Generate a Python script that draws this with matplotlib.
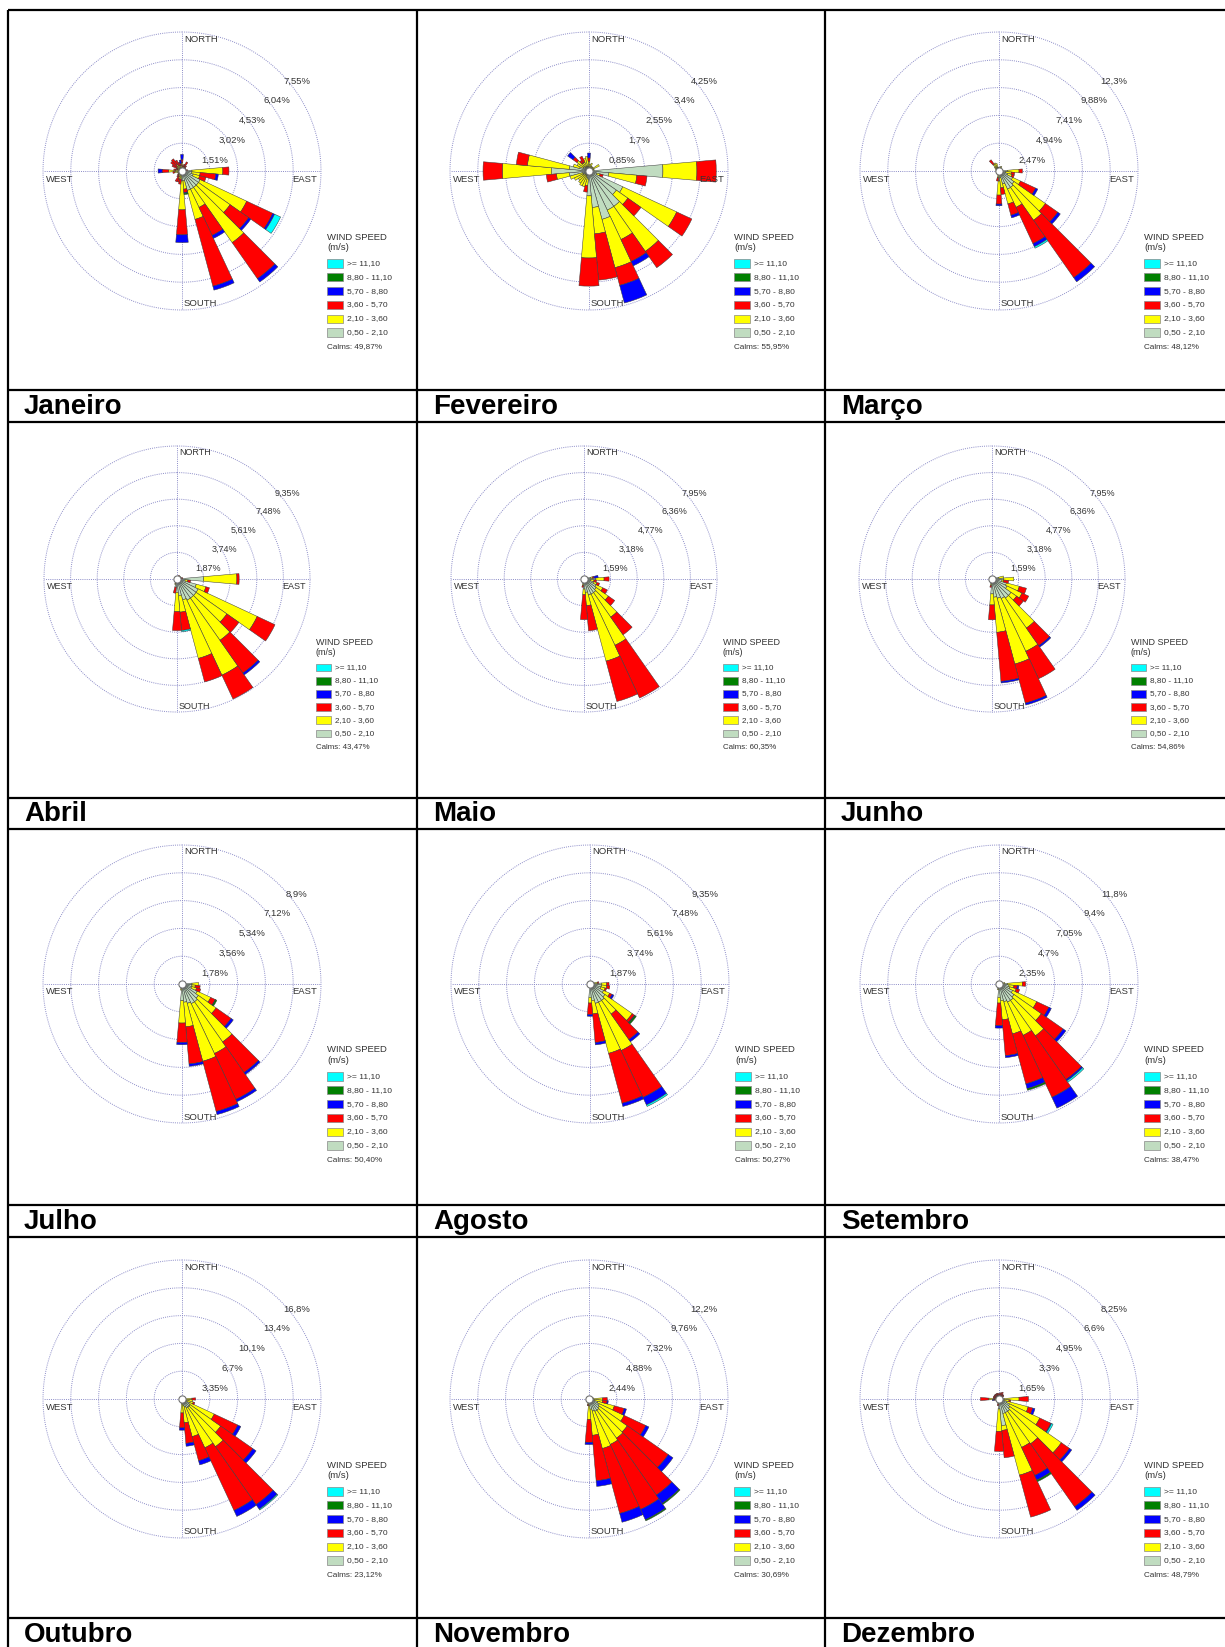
import matplotlib.pyplot as plt
import numpy as np
from matplotlib.patches import Rectangle

plt.rcParams['font.family'] = ['Liberation Sans', 'DejaVu Sans']

W, H = 1225, 1647

meses = ['Janeiro', 'Fevereiro', 'Março', 'Abril', 'Maio', 'Junho',
         'Julho', 'Agosto', 'Setembro', 'Outubro', 'Novembro', 'Dezembro']
calmas = ['49,87%', '55,95%', '48,12%', '43,47%', '60,35%', '54,86%',
          '50,40%', '50,27%', '38,47%', '23,12%', '30,69%', '48,79%']

# passo entre os anéis (%) e o texto de cada anel
passo = [1.51, 0.85, 2.47, 1.87, 1.59, 1.59, 1.78, 1.87, 2.35, 3.35, 2.44, 1.65]
aneis = [
    ['1,51%', '3,02%', '4,53%', '6,04%', '7,55%'],
    ['0,85%', '1,7%', '2,55%', '3,4%', '4,25%'],
    ['2,47%', '4,94%', '7,41%', '9,88%', '12,3%'],
    ['1,87%', '3,74%', '5,61%', '7,48%', '9,35%'],
    ['1,59%', '3,18%', '4,77%', '6,36%', '7,95%'],
    ['1,59%', '3,18%', '4,77%', '6,36%', '7,95%'],
    ['1,78%', '3,56%', '5,34%', '7,12%', '8,9%'],
    ['1,87%', '3,74%', '5,61%', '7,48%', '9,35%'],
    ['2,35%', '4,7%', '7,05%', '9,4%', '11,8%'],
    ['3,35%', '6,7%', '10,1%', '13,4%', '16,8%'],
    ['2,44%', '4,88%', '7,32%', '9,76%', '12,2%'],
    ['1,65%', '3,3%', '4,95%', '6,6%', '8,25%'],
]

classes = ['0,50 - 2,10', '2,10 - 3,60', '3,60 - 5,70', '5,70 - 8,80', '8,80 - 11,10', '>= 11,10']
cores = ['#c0dcc0', '#ffff00', '#ff0000', '#0000ff', '#008000', '#00ffff']

# frequência (%) por direção: [direção, 0.5-2.1, 2.1-3.6, 3.6-5.7, 5.7-8.8, 8.8-11.1, >=11.1]
jan = [
    [0, .27, .18, .18, .27], [10, .1, .1, .1], [20, .12, .12, .15], [30, .15, .15, .25],
    [40, .1, .1, .15], [50, .1, .1, .05], [60, .1, .05], [70, .1, .05], [80, .15, .1, .05],
    [90, .54, 1.68, .33], [100, .54, .45, .85, .14], [110, .63, .36, .36],
    [120, 1.09, 2.79, 1.56, .11, 0, .36], [130, 1.09, 2.10, 1.23, .14],
    [140, 1.09, 3.66, 2.39, .22], [150, 1.09, 1.09, 1.68, .18], [160, 1.09, 1.63, 3.76, .22],
    [170, .54, .45, .18, .05, .07], [180, .54, 1.57, 1.36, .42], [190, .27, .18, .27],
    [200, .18, .27, .18], [210, .15, .2, .3], [220, .15, .15, .1], [230, .1, .15, .05],
    [240, .1, .1], [250, .1, .15], [260, .2, .2, .1], [270, .36, .36, .36, .22],
    [280, .2, .15, .1], [290, .15, .1, .1], [300, .15, .15, .3], [310, .15, .2, .4],
    [320, .18, .27, .36], [330, .15, .2, .3], [340, .15, .15, .2], [350, .15, .15, .1, .2],
]
fev = [
    [0, .15, .15, .1, .15], [10, .1, .1], [20, .1, .15], [30, .08, .08], [40, .08, .08],
    [50, .08, .08], [60, .1, .25], [70, .08, .08], [80, .08, .08],
    [90, 2.26, 1.04, .59], [100, .61, .86, .31], [110, .25, .1, .1],
    [120, 1.14, 1.82, .51], [130, 1.02, .43, .49], [140, 1.32, 1.68, .61],
    [150, 1.32, .99, .74, .15], [160, 1.53, 1.53, .56, .56], [170, 1.12, .81, 1.42],
    [180, .76, 1.90, .86], [190, .25, .2, .2], [200, .2, .3], [210, .15, .35],
    [220, .15, .3], [230, .15, .25], [240, .2, .3], [250, .2, .4], [260, .61, .39, .31],
    [270, 1.15, 1.50, .59], [280, .61, 1.28, .34], [290, .3, .2], [300, .2, .2],
    [310, .2, .25, .15, .2], [320, .15, .15, .1], [330, .15, .15, .2], [340, .15, .25],
    [350, .15, .3],
]
mar = [
    [0, .1, .1], [10, .15, .15], [20, .1, .3], [30, .15, .3], [40, .1, .1], [50, .1, .1],
    [60, .1, .1], [70, .1, .1], [80, .1, .1], [90, .74, 1.04, .3], [100, .6, .5, .3],
    [110, .8, .4, .2], [120, 1.34, .77, 1.48, .21], [130, 1.63, 3.41, 1.34, .27],
    [140, 1.78, 3.56, 6.23, .45], [150, 1.78, 1.78, 3.56, .3, 0, .15],
    [160, 1.19, 1.84, 1.04, .24], [170, .6, .9, .6], [180, .89, 1.25, .8, .15],
    [190, .3, .3, .3], [200, .1, .1], [210, .1, .1], [220, .1, .1], [230, .1, .1],
    [240, .1, .1], [250, .1, .1], [260, .1, .1], [270, .15, .15], [300, .15, .2],
    [310, .2, .3], [320, .3, .45, .47], [330, .3, .5], [340, .3, .4], [350, .15, .2],
]
abr = [
    [30, .1, .1, .1], [60, .2, .1], [70, .2, .1], [80, .2, .1, .1],
    [90, 1.87, 2.34, .16], [100, .58, .19, .19], [110, 1.40, .70, .26],
    [120, 1.64, 4.58, 1.38], [130, 1.64, 2.64, 1.03], [140, 1.64, 3.62, 2.81, .16],
    [150, 1.64, 5.82, 1.85], [160, 1.52, 4.26, 1.71], [170, 1.17, 1.17, 1.29, 0, 0, .09],
    [180, .94, 1.36, 1.33], [190, .58, 0, .42], [200, .3, .1],
]
mai = [
    [80, .4, .1, .1, .25], [90, .7, .5, .3], [100, .4, .2, .15], [110, .6, .2, .16],
    [120, .8, .44, .3], [130, .89, .89, .46], [140, .99, 1.79, 1.29],
    [150, .99, 3.38, 3.48], [160, .99, 4.09, 2.50], [170, .8, .8, 1.51],
    [180, .6, .34, 1.49], [190, .3, .1, .1],
]
jun = [
    [80, .4, .3], [90, .7, .6], [100, .6, .1, .3], [110, .89, .8, .44],
    [120, .99, .99, .44], [130, 1.39, .4, .5], [140, 1.39, 2.19, 1.29, .1],
    [150, 1.29, 3.48, 1.81], [160, 1.19, 4.07, 2.42, .12], [170, 1.09, 2.11, 2.94, .1],
    [180, .89, .66, .89], [190, .3, .1, .1],
]
jul = [
    [90, .64, .43], [100, .64, .21, .32], [110, .64, .32, .28],
    [120, 1.07, .96, .32, .02, .09], [130, 1.28, 1.39, 1.17, .17],
    [140, 1.39, 3.14, 2.39, .15], [150, 1.39, 3.52, 3.24, .17],
    [160, 1.28, 3.84, 3.33, .21], [170, 1.17, 1.58, 2.39, .15],
    [180, 1.07, 1.43, 1.24, .15], [190, .3, .1],
]
ago = [
    [80, .3, .2, .1], [90, .78, .34, .16], [100, .78, .34, .22], [110, .75, .3, .1],
    [120, 1.01, .45, .18, .13], [130, 1.23, 2.24, .18, .04, .11],
    [140, 1.35, 1.12, 2.09, .18], [150, 1.35, 3.59, 3.48, .56, 0, .11],
    [160, 1.35, 3.48, 3.48, .22], [170, 1.12, .9, 1.93, .16], [180, .9, .38, .78, .11],
]
set_ = [
    [80, .3, .2], [90, .7, 1.27, .28], [100, .85, .42, .28, .14], [110, .95, .55, .3],
    [120, 1.27, 2.25, 1.13, .23], [130, 1.55, 2.82, 2.25, .28],
    [140, 1.69, 3.66, 4.51, .14, 0, .14], [150, 1.69, 3.10, 5.78, 1.01],
    [160, 1.55, 2.82, 4.37, .42, .14], [170, 1.41, 1.63, 3.04, .17],
    [180, 1.13, .48, 1.92, .2], [190, .4, .1],
]
out = [
    [80, .2, .2], [90, .4, .8, .44], [100, .4, .9], [110, .6, .8, .2],
    [120, 1.0, 3.29, 3.13, .4], [130, 1.2, 4.49, 4.73, .48],
    [140, 1.2, 5.81, 8.53, .68, 0, .12], [150, 1.2, 5.29, 8.33, .8],
    [160, 1.0, 3.69, 3.01, .52], [170, .8, 2.08, 2.48, .36], [180, .6, 1.08, 1.8, .28],
    [190, .3, .2],
]
nov = [
    [80, .2, .2], [90, .4, .8, .4], [100, .5, .7, .4, .1], [110, .8, 1.5, .9, .2],
    [120, 1.0, 2.4, 2.1, .3], [130, 1.1, 3.0, 4.4, .5], [140, 1.2, 3.0, 6.1, .9, .1],
    [150, 1.2, 3.2, 6.3, 1.0, .1], [160, 1.1, 3.4, 5.9, .8], [170, .9, 2.3, 4.0, .5],
    [180, .6, 1.2, 2.0, .2], [190, .3, .2, .1],
]
dez = [
    [0, .1, .1, .1], [10, .1, .1, .15], [20, .1, .1, .2], [30, .1, .15, .2], [40, .1, .1, .15],
    [50, .1, .1, .15], [60, .1, .1, .1], [90, .3, .89, .56], [100, .3, .3, .1],
    [110, .5, 1.29, .28, .14], [120, .69, 1.98, .73, .04, 0, .1], [130, .79, 3.73, .59, .16],
    [140, .89, 2.36, 4.56, .26], [150, .89, 2.28, 1.84, .3, .1], [160, .89, 3.79, 2.58],
    [170, 1.59, .28, 1.63], [180, .59, 1.33, 1.19], [190, .2, .1, .1], [200, .1, .1],
    [210, .1, .1], [220, .1, .1], [230, .1, .1], [240, .1, .1], [250, .1, .1],
    [260, .15, .1, .05, .1], [270, .2, .4, .5], [280, .1, .15, .1], [290, .1, .1, .15],
    [300, .1, .1, .15], [310, .1, .1, .15], [320, .1, .1, .15], [330, .1, .1, .15],
    [340, .1, .1, .15], [350, .1, .1, .15],
]
frequencias = [jan, fev, mar, abr, mai, jun, jul, ago, set_, out, nov, dez]

# geometria da tabela (pixels)
col_x = [8, 417, 825]
lin_y = [10, 390, 422, 798, 829, 1205, 1237, 1618]
centros = [(182, 171), (589, 171), (999, 171),
           (177, 579), (584, 579), (992, 579),
           (182, 984), (590, 984), (999, 984),
           (182, 1399), (589, 1399), (999, 1399)]
escala = [1, 1, 1, .957, .957, .957, 1, 1, 1, 1, 1, 1]
R0 = 139
COR_GRADE = '#8c8cc8'
COR_TXT = '#333333'

fig = plt.figure(figsize=(W / 100, H / 100), dpi=100)
fig.patch.set_facecolor('white')
base = fig.add_axes([0, 0, 1, 1])
base.set_xlim(0, W)
base.set_ylim(H, 0)
base.axis('off')

# linhas da tabela
for x in col_x:
    base.plot([x, x], [lin_y[0], H], color='black', lw=1.6, solid_capstyle='butt')
for y in lin_y:
    base.plot([col_x[0], W], [y, y], color='black', lw=1.6, solid_capstyle='butt')

# posição dos rótulos dos anéis (px a partir do centro, R = 139)
pos_aneis = [(33, -11), (50, -31), (70, -51), (95, -71), (115, -90)]

polares = []


def rosa(i):
    cx, cy = centros[i]
    s = escala[i]
    R = R0 * s
    ax = fig.add_axes([(cx - R) / W, 1 - (cy + R) / H, 2 * R / W, 2 * R / H],
                      projection='polar')
    ax.set_theta_zero_location('N')
    ax.set_theta_direction(-1)
    ax.set_axis_off()
    ax.patch.set_alpha(0)
    topo = 5 * passo[i]
    ax.set_ylim(0, topo)

    t = np.linspace(0, 2 * np.pi, 400)
    for k in range(1, 6):
        ax.plot(t, np.full_like(t, k * passo[i]), ls=(0, (1, 1.2)), color=COR_GRADE,
                lw=0.7, clip_on=False)
    for a in np.deg2rad([0, 90, 180, 270]):
        ax.plot([a, a], [0, topo], ls=(0, (1, 1.2)), color=COR_GRADE, lw=0.7, clip_on=False)

    tab = np.array([r + [0] * (7 - len(r)) for r in frequencias[i]], dtype=float)
    theta = np.deg2rad(tab[:, 0])
    acum = np.zeros(len(tab))
    for j in range(6):
        h = tab[:, j + 1]
        m = h > 0
        if m.any():
            ax.bar(theta[m], h[m], width=np.deg2rad(10), bottom=acum[m], color=cores[j],
                   edgecolor='#3a3a3a', linewidth=0.35, zorder=3)
        acum += h
    ax.plot([0], [0], 'o', ms=5.2, mfc='white', mec='#707070', mew=0.8, zorder=5)


for i in range(12):
    rosa(i)

# camada de textos por cima das rosas
topo_ax = fig.add_axes([0, 0, 1, 1])
topo_ax.set_xlim(0, W)
topo_ax.set_ylim(H, 0)
topo_ax.axis('off')
topo_ax.patch.set_alpha(0)

for i in range(12):
    cx, cy = centros[i]
    s = escala[i]
    R = R0 * s
    fs = 6.8 * s
    for (dx, dy), txt in zip(pos_aneis, aneis[i]):
        topo_ax.text(cx + dx * s, cy + dy * s, txt, fontsize=fs, color=COR_TXT,
                     ha='center', va='center')
    topo_ax.text(cx + 2 * s, cy - R + 7 * s, 'NORTH', fontsize=fs, color=COR_TXT, ha='left', va='center')
    topo_ax.text(cx + 2 * s, cy + R - 6 * s, 'SOUTH', fontsize=fs, color=COR_TXT, ha='left', va='center')
    topo_ax.text(cx - R + 3 * s, cy + 8 * s, 'WEST', fontsize=fs, color=COR_TXT, ha='left', va='center')
    topo_ax.text(cx + R - 4 * s, cy + 8 * s, 'EAST', fontsize=fs, color=COR_TXT, ha='right', va='center')

    # legenda
    lx = cx + 145 * s
    topo_ax.text(lx, cy + 66 * s, 'WIND SPEED', fontsize=fs, color=COR_TXT, ha='left', va='center')
    topo_ax.text(lx, cy + 76.5 * s, '(m/s)', fontsize=fs, color=COR_TXT, ha='left', va='center')
    for k, j in enumerate(range(5, -1, -1)):
        y0 = cy + (88.3 + 13.8 * k) * s
        topo_ax.add_patch(Rectangle((lx, y0), 15.6 * s, 8.3 * s, facecolor=cores[j],
                                    edgecolor='#888888', lw=0.5))
        topo_ax.text(cx + 165 * s, y0 + 4.2 * s, classes[j], fontsize=6.1 * s, color=COR_TXT,
                     ha='left', va='center')
    topo_ax.text(lx, cy + 175.5 * s, 'Calms: ' + calmas[i], fontsize=5.9 * s, color=COR_TXT,
                 ha='left', va='center')

# nomes dos meses
faixas = [407, 814, 1222, 1635]
for i, nome in enumerate(meses):
    topo_ax.text(col_x[i % 3] + 16, faixas[i // 3], nome, fontsize=20, fontweight='bold',
                 ha='left', va='center', color='black')

fig.savefig('out.png', dpi=100, facecolor='white')
